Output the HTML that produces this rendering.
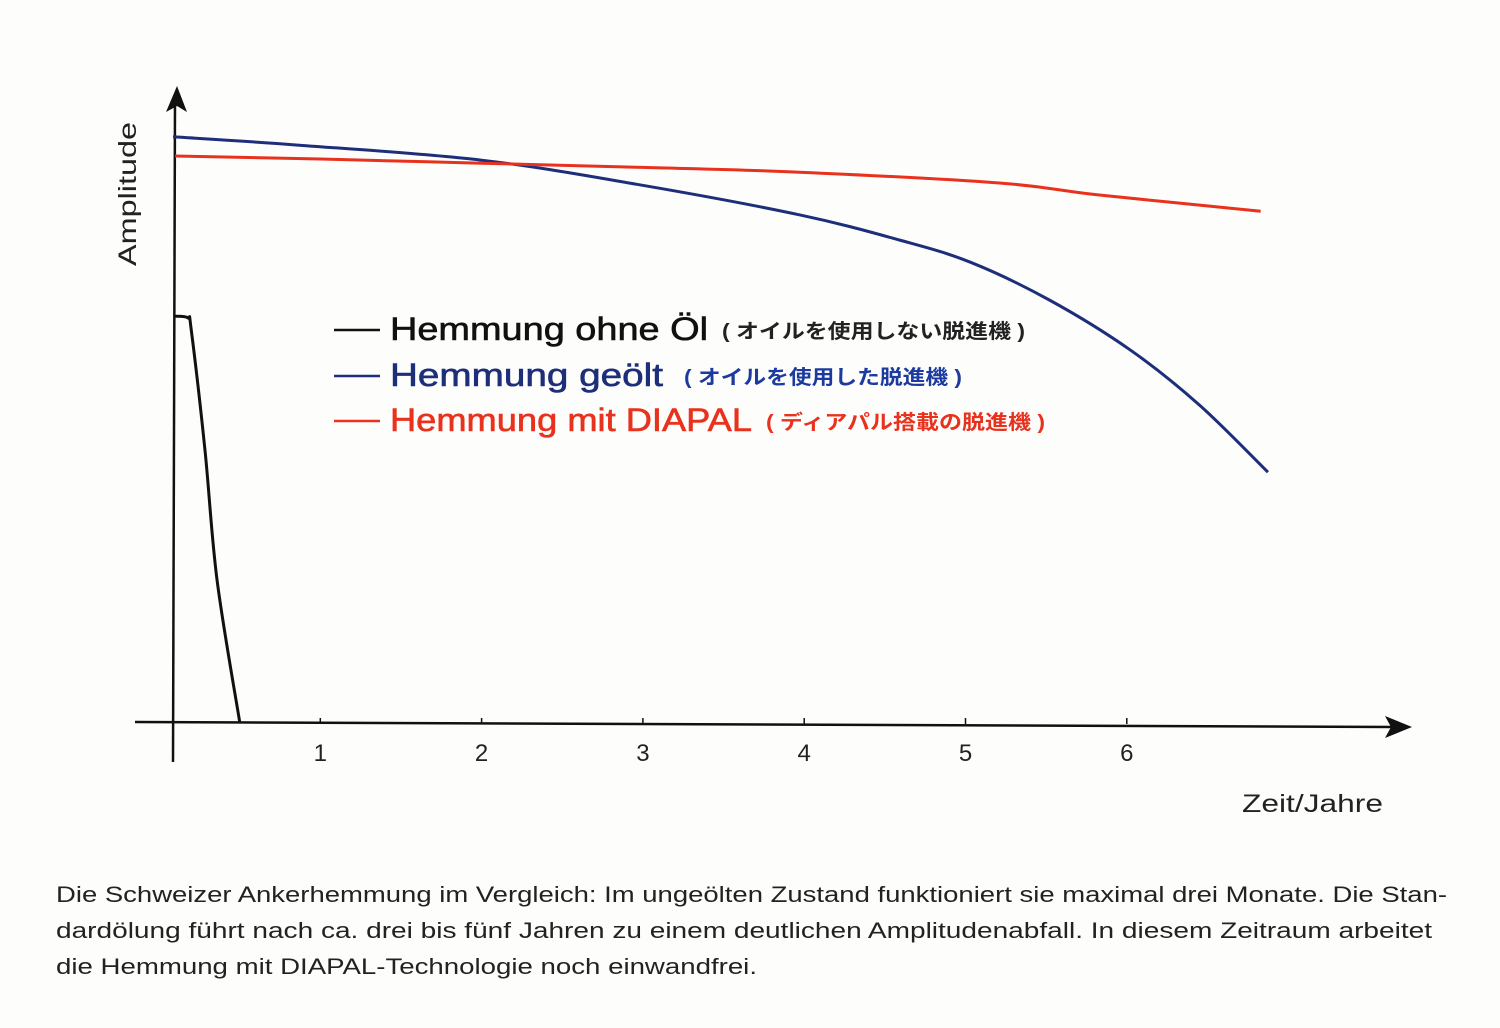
<!DOCTYPE html>
<html><head><meta charset="utf-8">
<style>
html,body{margin:0;padding:0;background:#fdfdfb;}
svg{display:block;font-family:"Liberation Sans","Noto Sans CJK JP",sans-serif;}
</style></head>
<body>
<svg id="chart" width="1500" height="1028" viewBox="0 0 1500 1028">
<rect x="0" y="0" width="1500" height="1028" fill="#fdfdfb"/>
<g id="axes"></g>
<g id="series"></g>
<text transform="translate(136,266) rotate(-90)" font-size="25" fill="#222" textLength="144" lengthAdjust="spacingAndGlyphs">Amplitude</text>
<text x="1242" y="812" font-size="25" fill="#222" textLength="141" lengthAdjust="spacingAndGlyphs">Zeit/Jahre</text>
<g>
 <g>
  <line x1="334" y1="330" x2="380" y2="330" stroke="#111" stroke-width="2.5"/>
  <text x="390" y="340" font-size="32" fill="#111" stroke="#111" stroke-width="0.6" textLength="318" lengthAdjust="spacingAndGlyphs">Hemmung ohne Öl</text>
  <text x="722" y="338" font-size="20" font-weight="bold" fill="#222" textLength="303" lengthAdjust="spacingAndGlyphs">( オイルを使用しない脱進機 )</text>
 </g>
 <g>
  <line x1="334" y1="376" x2="380" y2="376" stroke="#1d2e7a" stroke-width="2.5"/>
  <text x="390" y="386" font-size="32" fill="#1d2e7a" stroke="#1d2e7a" stroke-width="0.6" textLength="273" lengthAdjust="spacingAndGlyphs">Hemmung geölt</text>
  <text x="684" y="384" font-size="20" font-weight="bold" fill="#1d3aa0" textLength="278" lengthAdjust="spacingAndGlyphs">( オイルを使用した脱進機 )</text>
 </g>
 <g>
  <line x1="334" y1="421" x2="380" y2="421" stroke="#e8321e" stroke-width="2.5"/>
  <text x="390" y="431" font-size="32" fill="#e8321e" stroke="#e8321e" stroke-width="0.6" textLength="362" lengthAdjust="spacingAndGlyphs">Hemmung mit DIAPAL</text>
  <text x="766" y="429" font-size="20" font-weight="bold" fill="#e8321e" textLength="279" lengthAdjust="spacingAndGlyphs">( ディアパル搭載の脱進機 )</text>
 </g>
</g>
<g font-size="22" fill="#222">
 <text x="56" y="902" textLength="1391" lengthAdjust="spacingAndGlyphs">Die Schweizer Ankerhemmung im Vergleich: Im ungeölten Zustand funktioniert sie maximal drei Monate. Die Stan-</text>
 <text x="56" y="938" textLength="1376" lengthAdjust="spacingAndGlyphs">dardölung führt nach ca. drei bis fünf Jahren zu einem deutlichen Amplitudenabfall. In diesem Zeitraum arbeitet</text>
 <text x="56" y="974" textLength="701" lengthAdjust="spacingAndGlyphs">die Hemmung mit DIAPAL-Technologie noch einwandfrei.</text>
</g>
</svg>
<script>
const xTicks = [1,2,3,4,5,6];
const tickLabels = ["1","2","3","4","5","6"];
const blueYears = [0.087,0.87,2.0,2.98,3.97,4.59,5.03,5.52,6.02,6.45,6.875];
const blueAmp = [97.7,96.3,93.8,89.7,84.7,80.5,76.8,70.5,62.2,53,41.8];
const redYears = [0.1,1.0,2.0,3.0,3.97,5.21,5.83,6.83];
const redAmp = [94.5,94.0,93.3,92.6,91.8,90,88,85.3];
const blackYears = [0.1,0.18,0.2,0.285,0.36,0.5];
const blackAmp = [67.8,67.5,65.5,45.5,23.8,0.2];

const NS="http://www.w3.org/2000/svg";
function xs(t){return 159+161.3*t;}
function ys(a){return 723-6*a;}
const axes=document.getElementById('axes');
const series=document.getElementById('series');
function mk(tag,attrs,parent){const e=document.createElementNS(NS,tag);for(const k in attrs)e.setAttribute(k,attrs[k]);parent.appendChild(e);return e;}

let ya=mk('line',{x1:173,y1:762,x2:175,y2:100,stroke:'#111','stroke-width':2.5},axes);


let yarr=mk('path',{d:'M177,86 L166,112 L177,106 L187,112 Z',fill:'#111'},axes);


let xa=mk('line',{x1:135,y1:722,x2:1395,y2:727,stroke:'#111','stroke-width':2.5},axes);


let xarr=mk('path',{d:'M1412,727 L1385,716 L1391,727 L1385,738 Z',fill:'#111'},axes);


xTicks.forEach((t,i)=>{
  const tk=mk('line',{x1:xs(t),y1:718,x2:xs(t),y2:724,stroke:'#111','stroke-width':1.5},axes);
  
  
  const lb=mk('text',{x:xs(t),y:761,'font-size':24,'text-anchor':'middle',fill:'#222'},axes);
  lb.textContent=tickLabels[i];
  
  
});
function smooth(xv,yv){
  const p=xv.map((t,i)=>[xs(t),ys(yv[i])]);
  let d='M'+p[0][0]+','+p[0][1];
  for(let i=0;i<p.length-1;i++){
    const p0=p[i-1]||p[i],p1=p[i],p2=p[i+1],p3=p[i+2]||p2;
    const c1=[p1[0]+(p2[0]-p0[0])/6,p1[1]+(p2[1]-p0[1])/6];
    const c2=[p2[0]-(p3[0]-p1[0])/6,p2[1]-(p3[1]-p1[1])/6];
    d+=' C'+c1[0]+','+c1[1]+' '+c2[0]+','+c2[1]+' '+p2[0]+','+p2[1];
  }
  return d;
}
function line(xv,yv,color,name){
  const e=mk('path',{d:smooth(xv,yv),fill:'none',stroke:color,'stroke-width':3,'stroke-linejoin':'round'},series);
  
  
}
line(blackYears,blackAmp,'#111','line-no-oil');
line(blueYears,blueAmp,'#1d2e7a','line-oiled');
line(redYears,redAmp,'#e8321e','line-diapal');
</script>
</body></html>
